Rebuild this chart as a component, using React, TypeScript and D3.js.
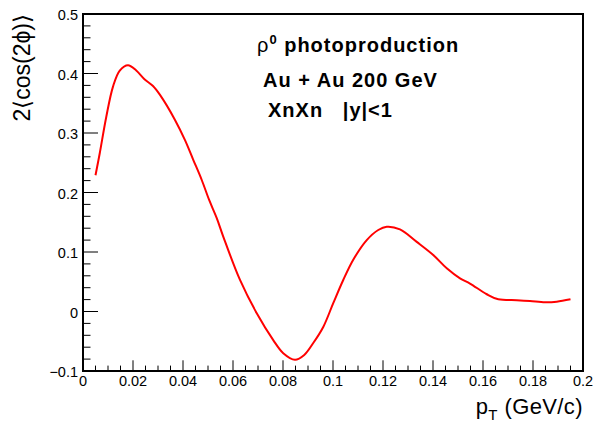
import React from 'react';
import * as d3 from 'd3';

// pT (GeV/c) and 2<cos(2phi)>
const pt = [0.005, 0.0067, 0.0093, 0.012, 0.0147, 0.018, 0.0213, 0.0247, 0.028, 0.0308, 0.0368, 0.0408, 0.0441,
  0.0475, 0.0505, 0.0535, 0.0561, 0.0628, 0.0695, 0.0761, 0.0801, 0.0848, 0.0885, 0.0921, 0.0961, 0.1001, 0.1041,
  0.1081, 0.1135, 0.1181, 0.1215, 0.1268, 0.1335, 0.1401, 0.1455, 0.1508, 0.1548, 0.1615, 0.1661, 0.1735, 0.1788,
  0.1848, 0.1895, 0.195];
const v2 = [0.229, 0.266, 0.327, 0.378, 0.405, 0.414, 0.405, 0.390, 0.379, 0.364, 0.322, 0.288, 0.255,
  0.221, 0.187, 0.157, 0.126, 0.053, -0.003, -0.048, -0.070, -0.081, -0.073, -0.053, -0.026, 0.014, 0.053,
  0.087, 0.120, 0.137, 0.1425, 0.138, 0.117, 0.095, 0.0726, 0.0558, 0.047, 0.029, 0.0205, 0.019, 0.0176,
  0.0155, 0.0165, 0.0205];

const xTicks = [0, 0.02, 0.04, 0.06, 0.08, 0.1, 0.12, 0.14, 0.16, 0.18, 0.2];
const xTickLabels = ['0', '0.02', '0.04', '0.06', '0.08', '0.1', '0.12', '0.14', '0.16', '0.18', '0.2'];
const yTicks = [-0.1, 0, 0.1, 0.2, 0.3, 0.4, 0.5];
const yTickLabels = ['\u22120.1', '0', '0.1', '0.2', '0.3', '0.4', '0.5'];

const width = 595;
const height = 425;
const left = 83, right = 583, top = 14, bottom = 371;

const x = d3.scaleLinear().domain([0, 0.2]).range([left, right]);
const y = d3.scaleLinear().domain([-0.1, 0.5]).range([bottom, top]);

const xMinor = d3.range(0, 41).map(i => i * 0.005);
const yMinor = d3.range(0, 31).map(i => -0.1 + i * 0.02);

const line = d3.line<number>()
  .x((d, i) => x(pt[i]))
  .y(d => y(d))
  .curve(d3.curveCatmullRom.alpha(0.5));

const font = 'Liberation Sans, Arial, Helvetica, sans-serif';
const sp = '\u00A0';

export default function App() {
  return (
    <svg width={width} height={height} style={{ position: 'absolute', left: 0, top: 0, background: '#fff' }}
      fontFamily={font}>
      <rect x={0} y={0} width={width} height={height} fill="#fff" />

      {/* ticks */}
      {xMinor.map((t, i) => {
        const major = i % 4 === 0;
        return <line key={'xm' + i} x1={x(t)} x2={x(t)} y1={bottom} y2={bottom - (major ? 10.7 : 5.4)}
          stroke="#000" strokeWidth={1} />;
      })}
      {yMinor.map((t, i) => {
        const major = i % 5 === 0;
        return <line key={'ym' + i} x1={left} x2={left + (major ? 15 : 7.5)} y1={y(t)} y2={y(t)}
          stroke="#000" strokeWidth={1} />;
      })}

      <path d={line(v2) || ''} fill="none" stroke="#ff0000" strokeWidth={2} />

      <rect x={left} y={top} width={right - left} height={bottom - top} fill="none" stroke="#000" strokeWidth={2} />

      {xTicks.map((t, i) => (
        <text key={'xl' + i} x={x(t)} y={386} fontSize={14.5} textAnchor="middle" fill="#000">{xTickLabels[i]}</text>
      ))}
      {yTicks.map((t, i) => (
        <text key={'yl' + i} x={78} y={y(t) + 6} fontSize={14.5} textAnchor="end" fill="#000">{yTickLabels[i]}</text>
      ))}

      {/* axis titles */}
      <text x={583} y={414} fontSize={22} textAnchor="end" fill="#000" letterSpacing={0.4}>
        p<tspan fontSize={15} dy={6}>T</tspan><tspan dy={-6}>{sp}(GeV/c)</tspan>
      </text>
      <text transform="translate(30,14) rotate(-90)" fontSize={23} textAnchor="end" fill="#000">
        2{'\u27E8'}cos(2{'\u03D5'}){'\u27E9'}
      </text>

      {/* labels */}
      <g fontSize={20} fontWeight="bold" fill="#000" letterSpacing={1}>
        <text x={257} y={52}>
          <tspan fontWeight="normal">{'\u03C1'}</tspan><tspan fontSize={13} dy={-8}>0</tspan><tspan dy={8}>{sp}photoproduction</tspan>
        </text>
        <text x={263} y={87}>Au + Au 200 GeV</text>
        <text x={268} y={117}>{'XnXn' + sp + sp + sp + '|y|<1'}</text>
      </g>
    </svg>
  );
}
